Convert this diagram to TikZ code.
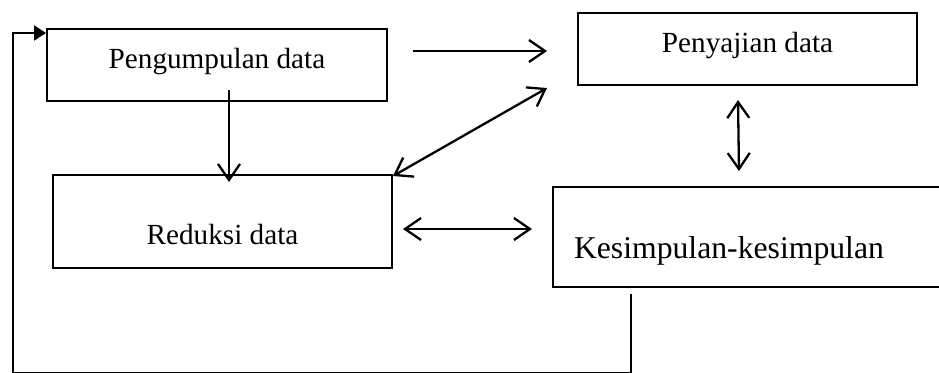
\documentclass[tikz,border=0pt]{standalone}
\usepackage{fontspec}
\setmainfont{Liberation Serif}
\usepackage{tikz}
\usetikzlibrary{positioning,arrows.meta}

\begin{document}
\begin{tikzpicture}[x=1pt, y=-1pt,
  box/.style={draw=black, line width=2pt, fill=white, inner sep=0pt,
              font=\fontsize{29.2pt}{35pt}\selectfont, text depth=0pt},
  arr/.style={-{Straight Barb[length=16pt,width=22pt]}, line width=2.3pt},
  darr/.style={{Straight Barb[length=16pt,width=22pt]}-{Straight Barb[length=16pt,width=22pt]}, line width=2.3pt},
  back/.style={-{Triangle[length=12pt,width=15pt]}, line width=2.3pt}]
\useasboundingbox (0,0) rectangle (939,372);
\node[box, minimum width=340pt, minimum height=72pt, text height=6pt] (kumpul) at (217,65) {Pengumpulan data};
\node[box, minimum width=339pt, minimum height=93pt, text height=45pt] (reduksi) at (222.5,221.5) {Reduksi data};
\node[box, minimum width=339pt, minimum height=72pt, text height=6pt] (sajian) at (747.5,49) {Penyajian data};
\node[box, anchor=west, minimum height=100pt, text width=380pt, inner xsep=21pt, align=left,
      text height=42pt, font=\fontsize{31.7pt}{38pt}\selectfont] (simpul) at (552,237) {Kesimpulan-kesimpulan};
\coordinate (pojok) at (13,373);
% panah antar kotak
\draw[arr] ([shift={(25,-14)}]kumpul.east) -- ([shift={(-30,2)}]sajian.west);
\draw[arr] ([shift={(12,-12)}]kumpul.south) -- ([shift={(6.5,8)}]reduksi.north);
\draw[darr] ([shift={(0,2)}]reduksi.north east) -- ([shift={(-30,2)}]sajian.south west);
\draw[darr] ([shift={(-9.5,14)}]sajian.south) -- ([shift={(-25,-15)}]simpul.north);
\draw[darr] ([shift={(10,7.5)}]reduksi.east) -- ([shift={(-20,-8)}]simpul.west);
% umpan balik
\draw[back] ([shift={(79,6)}]simpul.south west) |- (pojok) |- ([yshift=-5pt]kumpul.north west);
\end{tikzpicture}
\end{document}
